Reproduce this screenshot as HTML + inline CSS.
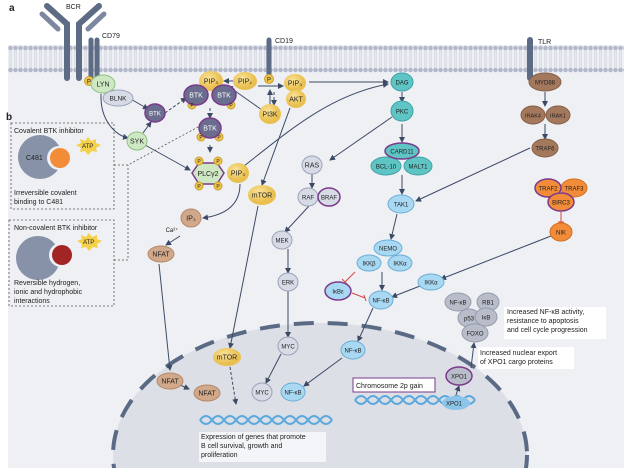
<!DOCTYPE html>
<html><head><meta charset="utf-8"><style>
html,body{margin:0;padding:0;background:#fff;width:632px;height:475px;overflow:hidden;}
svg{display:block;font-family:"Liberation Sans",sans-serif;}
text{font-size:7px;fill:#222;}
.s{font-size:4px;}
</style></head><body>
<svg width="632" height="475" viewBox="0 0 632 475" xmlns="http://www.w3.org/2000/svg">
<defs>
<pattern id="mem" x="8" y="0" width="5" height="80" patternUnits="userSpaceOnUse">
<circle cx="2.5" cy="48" r="2.3" fill="#b3b9ca"/>
<circle cx="2.5" cy="70" r="2.3" fill="#b3b9ca"/>
<line x1="1.8" y1="50" x2="1.8" y2="68" stroke="#cdd1dc" stroke-width="0.7"/>
<line x1="3.2" y1="50" x2="3.2" y2="68" stroke="#cdd1dc" stroke-width="0.7"/>
</pattern>
<marker id="ar" markerWidth="6" markerHeight="6" refX="5" refY="3" orient="auto"><path d="M0,0 L6,3 L0,6 z" fill="#3c4a66"/></marker>
<radialGradient id="y" cx="0.4" cy="0.35"><stop offset="0" stop-color="#fbe39a"/><stop offset="1" stop-color="#e9c04f"/></radialGradient>
</defs>
<rect x="8" y="45" width="616" height="423" fill="#eef0f4"/>
<rect x="8" y="44" width="616" height="30" fill="url(#mem)"/>
<ellipse cx="320" cy="455" rx="207" ry="132" fill="#dcdfe6"/>
<ellipse cx="320" cy="455" rx="207" ry="132" fill="none" stroke="#5a6a85" stroke-width="4" stroke-dasharray="20 14"/>
<rect x="0" y="468" width="632" height="7" fill="#fff"/>
<text x="9" y="11" style="font-size:10px;font-weight:bold">a</text>
<text x="6" y="120" style="font-size:10px;font-weight:bold">b</text>
<g stroke="#5d6b85" stroke-linecap="round" fill="none">
<path d="M47,6 L67,24 L67,78" stroke-width="6"/>
<path d="M99,6 L79,24 L79,78" stroke-width="6"/>
<path d="M42,14 L58,29" stroke-width="5" stroke="#7b88a0"/>
<path d="M104,14 L88,29" stroke-width="5" stroke="#7b88a0"/>
<path d="M91,40 L91,78 M97,40 L97,78" stroke-width="5"/>
<path d="M269,40 L269,76" stroke-width="5"/>
<path d="M530,40 L530,78" stroke-width="6"/>
</g>
<text x="66" y="9">BCR</text><text x="102" y="38">CD79</text><text x="275" y="43">CD19</text><text x="538" y="44">TLR</text>
<g stroke="#3c4a66" stroke-width="1" fill="none" marker-end="url(#ar)">
<path d="M129,98 L148,109"/>
<path d="M101,94 C100,120 115,135 128,138"/>
<path d="M143,133 L151,122"/>
<path d="M145,145 L190,170"/>
<path d="M165,113 L186,98" stroke-dasharray="3 2"/>
<path d="M210,108 L210,118" stroke-dasharray="3 2"/>
<path d="M210,145 L210,152"/>
<path d="M233,81 L224,81"/>
<path d="M258,86 L283,86"/>
<path d="M262,110 L228,86"/>
<path d="M270,105 L270,90"/>
<path d="M274,92 L274,105" stroke-dasharray="3 2"/>
<path d="M309,82 L388,82"/>
<path d="M402,92 L402,102"/>
<path d="M240,184 C240,205 225,215 203,218"/>
<path d="M180,236 L166,245"/>
<path d="M159,264 L170,370"/>
<path d="M180,385 L189,389"/>
<path d="M290,108 L262,185"/>
<path d="M258,206 L230,348"/>
<path d="M230,367 L236,404" stroke-dasharray="3 2"/>
<path d="M244,166 C290,130 330,95 388,84"/>
<path d="M392,117 L330,160"/>
<path d="M312,174 L312,188"/>
<path d="M309,206 L285,232"/>
<path d="M288,249 L288,273"/>
<path d="M288,291 L288,337"/>
<path d="M281,354 L266,383"/>
<path d="M402,124 L402,142"/>
<path d="M402,175 L402,194"/>
<path d="M530,148 L416,201"/>
<path d="M545,92 L545,106"/>
<path d="M545,124 L545,139"/>
<path d="M397,214 L391,239"/>
<path d="M382,272 L382,290"/>
<path d="M551,236 L441,279"/>
<path d="M420,286 L392,297"/>
<path d="M373,308 L358,341"/>
<path d="M342,358 L304,386"/>
<path d="M471,368 L474,343"/>
<path d="M455,398 L459,386"/>
</g>
<g stroke="#d9473f" stroke-width="1" fill="none">
<path d="M355,272 L345,282 M342,279 L348,285"/>
<path d="M352,293 L365,298 M364,295 L366,301"/>
<path d="M561,212 L561,222 M558,222 L564,222"/>
</g>
<g fill="none" stroke="#555" stroke-width="0.8" stroke-dasharray="2 2">
<rect x="11" y="123" width="103" height="86"/>
<rect x="9" y="220" width="105" height="86"/>
<path d="M114,165 L128,165 L198,127"/>
<path d="M114,260 L128,260 L128,165"/>
</g>
<text x="14" y="133">Covalent BTK inhibitor</text>
<circle cx="40" cy="157" r="22" fill="#8792a8"/>
<circle cx="59" cy="158" r="12" fill="#eef0f4"/>
<circle cx="60" cy="158" r="10" fill="#f28c38"/>
<text x="26" y="160">C481</text>
<polygon points="88,137 91,141 96,139 96,143 101,145 96,148 97,152 92,151 88,155 85,151 80,152 81,148 76,145 81,143 80,139 85,141" fill="#f5d04a"/>
<text x="82" y="148" style="font-size:6px">ATP</text>
<text x="14" y="195">Irreversible covalent</text><text x="14" y="204">binding to C481</text>
<text x="14" y="230">Non-covalent BTK inhibitor</text>
<circle cx="38" cy="258" r="22" fill="#8792a8"/>
<circle cx="61" cy="255" r="12" fill="#eef0f4"/>
<circle cx="62" cy="255" r="10" fill="#a32424"/>
<polygon points="89,233 92,237 97,235 97,239 102,241 97,244 98,248 93,247 89,251 86,247 81,248 82,244 77,241 82,239 81,235 86,237" fill="#f5d04a"/>
<text x="83" y="244" style="font-size:6px">ATP</text>
<text x="14" y="285">Reversible hydrogen,</text><text x="14" y="294">ionic and hydrophobic</text><text x="14" y="303">interactions</text>
<g font-size="7" text-anchor="middle" stroke-width="1">
<g fill="#f0c44b" stroke="#c9a030"><circle cx="89" cy="81" r="4.5"/><circle cx="269" cy="79" r="4.5"/>
<circle cx="192" cy="105" r="4"/><circle cx="231" cy="105" r="4"/><circle cx="201" cy="137" r="4"/><circle cx="219" cy="137" r="4"/></g>
<ellipse cx="103" cy="84" rx="12" ry="9" fill="#cfe8c4" stroke="#8fbf80"/>
<ellipse cx="118" cy="98" rx="15" ry="8" fill="#d7dbe6" stroke="#9aa2b8"/>
<ellipse cx="155" cy="113" rx="10" ry="9" fill="#6a6d8d" stroke="#7b3a8a" stroke-width="1.5"/>
<ellipse cx="137" cy="141" rx="10" ry="9" fill="#cfe8c4" stroke="#8fbf80"/>
<ellipse cx="211" cy="81" rx="12" ry="10" fill="url(#y)"/>
<ellipse cx="245" cy="81" rx="12" ry="9" fill="url(#y)"/>
<ellipse cx="295" cy="83" rx="11" ry="9" fill="url(#y)"/>
<ellipse cx="296" cy="99" rx="10" ry="9" fill="url(#y)"/>
<ellipse cx="270" cy="114" rx="11" ry="10" fill="url(#y)"/>
<ellipse cx="196" cy="95" rx="12" ry="10" fill="#6a6d8d" stroke="#7b3a8a" stroke-width="1.5"/>
<ellipse cx="224" cy="95" rx="12" ry="10" fill="#6a6d8d" stroke="#7b3a8a" stroke-width="1.5"/>
<ellipse cx="210" cy="128" rx="11" ry="10" fill="#6a6d8d" stroke="#7b3a8a" stroke-width="1.5"/>
<polygon points="192,173 199,163 217,163 224,173 217,184 199,184" fill="#cfe8c4" stroke="#7b3a8a" stroke-width="1.5"/>
<g fill="#f0c44b" stroke="#c9a030"><circle cx="199" cy="161" r="4"/><circle cx="218" cy="161" r="4"/><circle cx="199" cy="186" r="4"/><circle cx="218" cy="186" r="4"/></g>
<ellipse cx="238" cy="173" rx="11" ry="10" fill="url(#y)"/>
<ellipse cx="191" cy="218" rx="10" ry="9" fill="#d2a88a" stroke="#b58868"/>
<ellipse cx="262" cy="195" rx="14" ry="10" fill="url(#y)"/>
<ellipse cx="161" cy="254" rx="13" ry="8" fill="#d2a88a" stroke="#b58868"/>
<ellipse cx="170" cy="381" rx="13" ry="8" fill="#d2a88a" stroke="#b58868"/>
<ellipse cx="207" cy="393" rx="13" ry="8" fill="#d2a88a" stroke="#b58868"/>
<ellipse cx="227" cy="357" rx="14" ry="9" fill="url(#y)"/>
<g fill="#d7dbe6" stroke="#9aa2b8">
<ellipse cx="312" cy="165" rx="10" ry="9"/><ellipse cx="308" cy="197" rx="10" ry="9"/>
<ellipse cx="282" cy="240" rx="10" ry="9"/><ellipse cx="288" cy="282" rx="10" ry="9"/>
<ellipse cx="288" cy="346" rx="10" ry="9"/><ellipse cx="262" cy="392" rx="10" ry="9"/></g>
<ellipse cx="329" cy="197" rx="11" ry="9" fill="#d7dbe6" stroke="#7b3a8a" stroke-width="1.5"/>
<g fill="#a8d8f2" stroke="#6aaed6">
<ellipse cx="293" cy="392" rx="12" ry="9"/><ellipse cx="401" cy="204" rx="13" ry="9"/>
<ellipse cx="388" cy="248" rx="14" ry="8"/><ellipse cx="369" cy="263" rx="12" ry="8"/><ellipse cx="400" cy="263" rx="12" ry="8"/>
<ellipse cx="431" cy="282" rx="13" ry="8"/><ellipse cx="381" cy="300" rx="12" ry="9"/><ellipse cx="353" cy="350" rx="12" ry="9"/></g>
<ellipse cx="338" cy="291" rx="13" ry="9" fill="#a8d8f2" stroke="#7b3a8a" stroke-width="1.5"/>
<g fill="#5ec4c4" stroke="#3fa2a6">
<ellipse cx="402" cy="82" rx="11" ry="9"/><ellipse cx="402" cy="111" rx="11" ry="10"/>
<ellipse cx="386" cy="166" rx="15" ry="9"/><ellipse cx="418" cy="166" rx="14" ry="9"/></g>
<ellipse cx="402" cy="151" rx="17" ry="8" fill="#5ec4c4" stroke="#7b3a8a" stroke-width="1.5"/>
<g fill="#a4785c" stroke="#86604a">
<ellipse cx="545" cy="82" rx="16" ry="9"/><ellipse cx="533" cy="115" rx="12" ry="9"/><ellipse cx="558" cy="115" rx="12" ry="9"/><ellipse cx="545" cy="148" rx="13" ry="9"/></g>
<g fill="#f28c38" stroke="#d46e1e">
<ellipse cx="574" cy="188" rx="13" ry="9"/><ellipse cx="561" cy="232" rx="11" ry="9"/></g>
<ellipse cx="548" cy="188" rx="13" ry="9" fill="#f28c38" stroke="#7b3a8a" stroke-width="1.5"/>
<ellipse cx="561" cy="202" rx="13" ry="9" fill="#f28c38" stroke="#7b3a8a" stroke-width="1.5"/>
<g fill="#b8bdc9" stroke="#959bab">
<ellipse cx="458" cy="302" rx="13" ry="9"/><ellipse cx="488" cy="302" rx="11" ry="9"/>
<ellipse cx="469" cy="318" rx="11" ry="9"/><ellipse cx="486" cy="317" rx="11" ry="9"/><ellipse cx="475" cy="333" rx="13" ry="9"/></g>
<ellipse cx="459" cy="376" rx="13" ry="9" fill="#b8bdc9" stroke="#7b3a8a" stroke-width="1.5"/>
<g fill="#222" stroke="none">
<text x="89" y="83.5" style="font-size:6px">P</text><text x="269" y="81.5" style="font-size:6px">P</text>
<text x="192" y="107" style="font-size:5px">P</text><text x="231" y="107" style="font-size:5px">P</text>
<text x="201" y="139" style="font-size:5px">P</text><text x="219" y="139" style="font-size:5px">P</text>
<text x="199" y="163" style="font-size:5px">P</text><text x="218" y="163" style="font-size:5px">P</text>
<text x="199" y="188" style="font-size:5px">P</text><text x="218" y="188" style="font-size:5px">P</text>
<text x="103" y="86.5">LYN</text><text x="118" y="100.5" style="font-size:6.5px">BLNK</text>
<text x="155" y="115.5" style="font-size:6px;fill:#fff">BTK</text><text x="137" y="143.5">SYK</text>
<text x="211" y="83.5">PIP₃</text><text x="245" y="83.5">PIP₂</text><text x="295" y="85.5">PIP₃</text>
<text x="296" y="101.5">AKT</text><text x="270" y="116.5">PI3K</text>
<text x="196" y="97.5" style="fill:#fff">BTK</text><text x="224" y="97.5" style="fill:#fff">BTK</text><text x="210" y="130.5" style="fill:#fff">BTK</text>
<text x="208" y="176">PLCγ2</text><text x="238" y="175.5">PIP₃</text>
<text x="191" y="220.5">IP₃</text><text x="172" y="232" style="font-size:6px">Ca²⁺</text>
<text x="262" y="197.5">mTOR</text><text x="161" y="256.5">NFAT</text><text x="170" y="383.5">NFAT</text><text x="207" y="395.5">NFAT</text>
<text x="227" y="359.5">mTOR</text>
<text x="312" y="167.5">RAS</text><text x="308" y="199.5" style="font-size:6px">RAF</text><text x="329" y="199.5" style="font-size:6px">BRAF</text>
<text x="282" y="242.5" style="font-size:6px">MEK</text><text x="288" y="284.5" style="font-size:6px">ERK</text>
<text x="288" y="348.5" style="font-size:6px">MYC</text><text x="262" y="394.5" style="font-size:6px">MYC</text>
<text x="293" y="394.5" style="font-size:6px">NF-κB</text>
<text x="402" y="84.5" style="font-size:6px">DAG</text><text x="402" y="113.5" style="font-size:6px">PKC</text>
<text x="402" y="153.5" style="font-size:6px">CARD11</text><text x="386" y="168.5" style="font-size:6px">BCL-10</text><text x="418" y="168.5" style="font-size:6px">MALT1</text>
<text x="401" y="206.5" style="font-size:6px">TAK1</text>
<text x="545" y="84.5" style="font-size:6px">MYD88</text><text x="533" y="117.5" style="font-size:5.5px">IRAK4</text><text x="558" y="117.5" style="font-size:5.5px">IRAK1</text>
<text x="545" y="150.5" style="font-size:6px">TRAF6</text>
<text x="548" y="190.5" style="font-size:6px">TRAF2</text><text x="574" y="190.5" style="font-size:6px">TRAF3</text><text x="561" y="204.5" style="font-size:6px">BIRC3</text>
<text x="561" y="234.5" style="font-size:6px">NIK</text>
<text x="388" y="250.5" style="font-size:6px">NEMO</text><text x="369" y="265.5" style="font-size:6px">IKKβ</text><text x="400" y="265.5" style="font-size:6px">IKKα</text>
<text x="431" y="284.5" style="font-size:6px">IKKα</text><text x="338" y="293.5" style="font-size:6px">IκBε</text>
<text x="381" y="302.5" style="font-size:6px">NF-κB</text><text x="353" y="352.5" style="font-size:6px">NF-κB</text>
<text x="458" y="304.5" style="font-size:6px">NF-κB</text><text x="488" y="304.5" style="font-size:6px">RB1</text>
<text x="469" y="320.5" style="font-size:6px">p53</text><text x="486" y="319.5" style="font-size:6px">IκB</text><text x="475" y="335.5" style="font-size:6px">FOXO</text>
<text x="459" y="378.5" style="font-size:6px">XPO1</text>
</g>
</g>
<g fill="none" stroke="#5aa8dc" stroke-width="2">
<path d="M200,420 q6,-8 12,0 t12,0 t12,0 t12,0 t12,0 t12,0 t12,0 t12,0 t12,0 t12,0 t12,0"/>
<path d="M200,420 q6,8 12,0 t12,0 t12,0 t12,0 t12,0 t12,0 t12,0 t12,0 t12,0 t12,0 t12,0"/>
<path d="M355,400 q6,-8 12,0 t12,0 t12,0 t12,0 t12,0 t12,0 t12,0 t12,0 t12,0 t12,0"/>
<path d="M355,400 q6,8 12,0 t12,0 t12,0 t12,0 t12,0 t12,0 t12,0 t12,0 t12,0 t12,0"/>
</g>
<ellipse cx="456" cy="403" rx="14" ry="7" fill="#8cc5ea"/>
<text x="446" y="405.5" style="font-size:6px">XPO1</text>
<rect x="353" y="378" width="82" height="14" fill="#fff" stroke="#7b3a8a"/>
<text x="356" y="388">Chromosome 2p gain</text>
<rect x="199" y="432" width="127" height="30" fill="#f4f5f8"/>
<text x="201" y="439">Expression of genes that promote</text><text x="201" y="448">B cell survival, growth and</text><text x="201" y="457">proliferation</text>
<rect x="504" y="307" width="102" height="32" fill="#fff"/>
<text x="507" y="314">Increased NF-κB activity,</text><text x="507" y="323">resistance to apoptosis</text><text x="507" y="332">and cell cycle progression</text>
<rect x="478" y="347" width="96" height="22" fill="#fff"/>
<text x="480" y="355">Increased nuclear export</text><text x="480" y="364">of XPO1 cargo proteins</text>
</svg>
</body></html>
